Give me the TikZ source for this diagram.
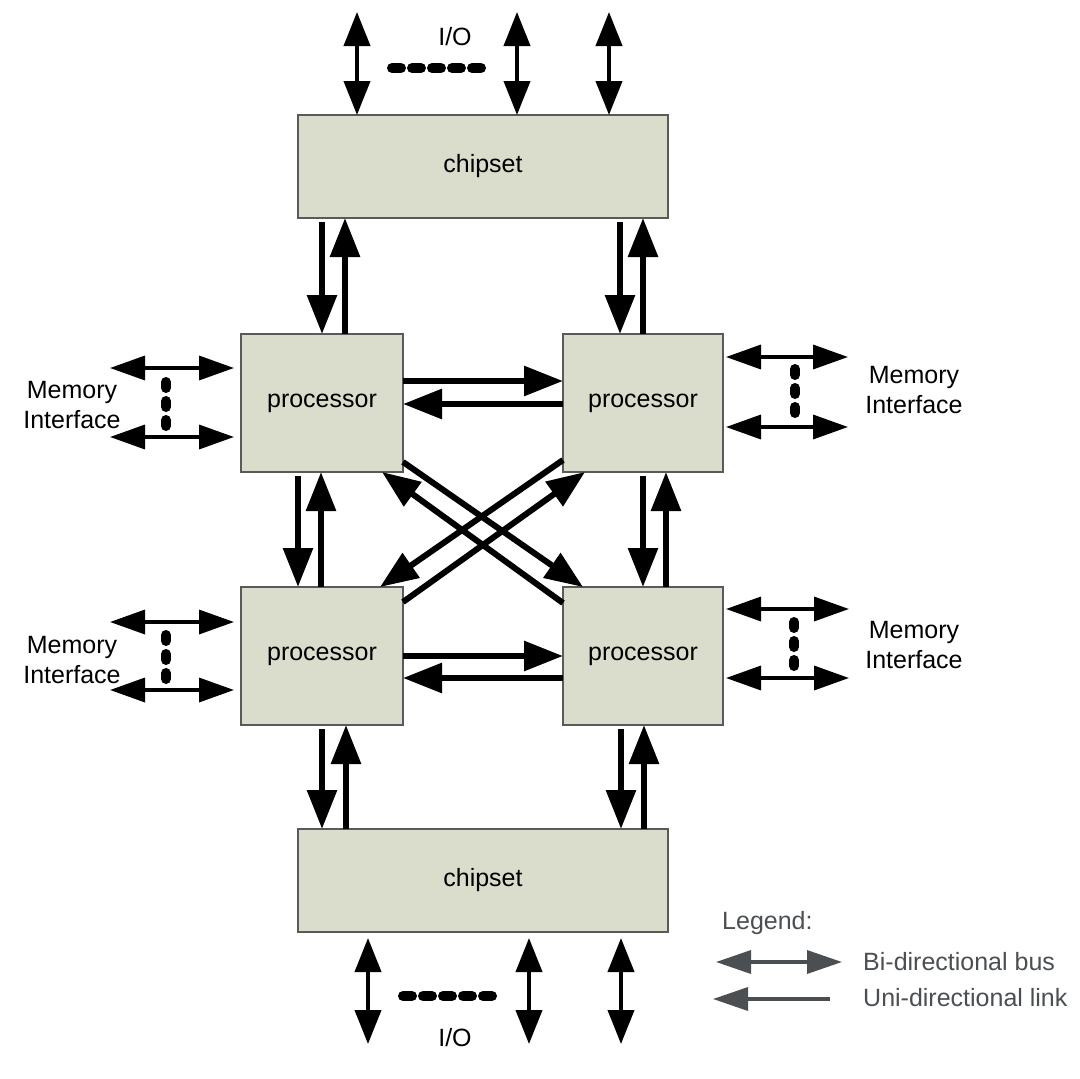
\documentclass[tikz,border=0pt]{standalone}
\usepackage{fontspec}
\setmainfont{Liberation Sans}
\usetikzlibrary{arrows.meta}
\definecolor{boxfill}{HTML}{DADDCB}
\definecolor{boxline}{HTML}{5A5A5A}
\definecolor{leggray}{HTML}{4B4F52}
\tikzset{
  unit/.style={draw=boxline, line width=1.4pt, fill=boxfill, inner sep=0pt, outer sep=0pt,
     font=\fontsize{25}{28}\selectfont},
  unilink/.style={line width=6pt, -{Triangle[length=39pt,width=29pt]}},
  diaglink/.style={line width=6pt, -{Triangle[length=38pt,width=29pt]}},
  iobus/.style={line width=4pt, {Triangle[length=34pt,width=26pt]}-{Triangle[length=34pt,width=26pt]}},
  membus/.style={line width=3.5pt, {Triangle[length=35pt,width=24pt]}-{Triangle[length=35pt,width=24pt]}},
  hdots/.style={line width=10pt, line cap=round, dash pattern=on 9pt off 11pt},
  vdots/.style={line width=10pt, line cap=round, dash pattern=on 6pt off 13pt},
  lbl/.style={font=\fontsize{25}{30}\selectfont, align=center, inner sep=0pt},
  legtxt/.style={font=\fontsize{25}{30}\selectfont, text=leggray, inner sep=0pt, anchor=west},
  legbi/.style={draw=leggray, line width=3.5pt, {Triangle[length=35pt,width=23pt]}-{Triangle[length=35pt,width=23pt]}},
  leguni/.style={draw=leggray, line width=3.5pt, -{Triangle[length=35pt,width=23pt]}},
}
\begin{document}
\begin{tikzpicture}[x=1pt, y=-1pt]
\useasboundingbox (0,0) rectangle (1080,1079);
\fill[white] (0,0) rectangle (1080,1079);

% boxes
\node[unit, minimum width=370pt, minimum height=103pt] (cs1) at (483,166.5) {chipset};
\node[unit, minimum width=162pt, minimum height=138pt] (tl) at (322,403) {processor};
\node[unit, minimum width=160pt, minimum height=138pt] (tr) at (643,403) {processor};
\node[unit, minimum width=162pt, minimum height=138pt] (bl) at (322,656) {processor};
\node[unit, minimum width=160pt, minimum height=138pt] (br) at (643,656) {processor};
\node[unit, minimum width=370pt, minimum height=103pt] (cs2) at (483,880.5) {chipset};

% chipset <-> top processors
\draw[unilink] ([xshift=24pt,yshift=-4pt]cs1.south west) -- ([xshift=81pt]tl.north west);
\draw[unilink] ([xshift=104pt]tl.north west) -- ([xshift=47pt]cs1.south west);
\draw[unilink] ([xshift=322pt,yshift=-4pt]cs1.south west) -- ([xshift=57pt]tr.north west);
\draw[unilink] ([xshift=80pt]tr.north west) -- ([xshift=345pt]cs1.south west);

% top processors <-> bottom processors (vertical)
\draw[unilink] ([xshift=57pt,yshift=-4pt]tl.south west) -- ([xshift=57pt]bl.north west);
\draw[unilink] ([xshift=80pt]bl.north west) -- ([xshift=80pt]tl.south west);
\draw[unilink] ([xshift=80pt,yshift=-4pt]tr.south west) -- ([xshift=80pt]br.north west);
\draw[unilink] ([xshift=103pt]br.north west) -- ([xshift=103pt]tr.south west);

% bottom processors <-> bottom chipset
\draw[unilink] ([xshift=81pt,yshift=-4pt]bl.south west) -- ([xshift=24pt]cs2.north west);
\draw[unilink] ([xshift=48pt]cs2.north west) -- ([xshift=105pt]bl.south west);
\draw[unilink] ([xshift=58pt,yshift=-4pt]br.south west) -- ([xshift=323pt]cs2.north west);
\draw[unilink] ([xshift=346pt]cs2.north west) -- ([xshift=81pt]br.south west);

% horizontal links
\draw[unilink] ([yshift=-47pt]tl.north east) -- ([yshift=-47pt]tr.north west);
\draw[unilink] ([yshift=-70pt]tr.north west) -- ([yshift=-70pt]tl.north east);
\draw[unilink] ([yshift=-69pt]bl.north east) -- ([yshift=-69pt]br.north west);
\draw[unilink] ([yshift=-91pt]br.north west) -- ([yshift=-91pt]bl.north east);

% diagonal links
\draw[diaglink] ([yshift=10pt]tl.south east) -- ([xshift=20pt]br.north west);
\draw[diaglink] ([yshift=-16pt]br.north west) -- ([xshift=-21pt]tl.south east);
\draw[diaglink] ([yshift=12pt]tr.south west) -- ([xshift=-23pt]bl.north east);
\draw[diaglink] ([yshift=-15pt]bl.north east) -- ([xshift=22pt]tr.south west);

% I/O top
\coordinate (iot1) at (357,12);
\coordinate (iot2) at (517,12);
\coordinate (iot3) at (609,12);
\draw[iobus] (iot1) -- ([xshift=59pt]cs1.north west);
\draw[iobus] (iot2) -- ([xshift=219pt]cs1.north west);
\draw[iobus] (iot3) -- ([xshift=311pt]cs1.north west);
\coordinate (dt1) at (392,68);
\coordinate (dt2) at (481,68);
\draw[hdots] (dt1) -- (dt2);
\node[lbl] (iotl) at (455,37) {I/O};

% I/O bottom
\coordinate (iob1) at (368,1044);
\coordinate (iob2) at (529,1044);
\coordinate (iob3) at (621,1044);
\draw[iobus] ([xshift=70pt,yshift=-6pt]cs2.south west) -- (iob1);
\draw[iobus] ([xshift=231pt,yshift=-6pt]cs2.south west) -- (iob2);
\draw[iobus] ([xshift=323pt,yshift=-6pt]cs2.south west) -- (iob3);
\coordinate (db1) at (403,996);
\coordinate (db2) at (492,996);
\draw[hdots] (db1) -- (db2);
\node[lbl] (iobl) at (455,1038) {I/O};

% memory interfaces
\coordinate (mtl1) at (110,368);
\coordinate (mtl2) at (110,437);
\draw[membus] (mtl1) -- ([xshift=-7pt,yshift=-34pt]tl.north west);
\draw[membus] (mtl2) -- ([xshift=-7pt,yshift=-103pt]tl.north west);
\coordinate (vtl1) at (166,382);
\coordinate (vtl2) at (166,426);
\draw[vdots] (vtl1) -- (vtl2);
\node[lbl] (mtll) at (72,405) {Memory\\Interface};

\coordinate (mbl1) at (110,622);
\coordinate (mbl2) at (110,690);
\draw[membus] (mbl1) -- ([xshift=-7pt,yshift=-35pt]bl.north west);
\draw[membus] (mbl2) -- ([xshift=-7pt,yshift=-103pt]bl.north west);
\coordinate (vbl1) at (166,635);
\coordinate (vbl2) at (166,679);
\draw[vdots] (vbl1) -- (vbl2);
\node[lbl] (mbll) at (72,660) {Memory\\Interface};

\coordinate (mtr1) at (848,357);
\coordinate (mtr2) at (848,427);
\draw[membus] ([xshift=3pt,yshift=-23pt]tr.north east) -- (mtr1);
\draw[membus] ([xshift=3pt,yshift=-93pt]tr.north east) -- (mtr2);
\coordinate (vtr1) at (795,369);
\coordinate (vtr2) at (795,413);
\draw[vdots] (vtr1) -- (vtr2);
\node[lbl] (mtrl) at (914,390) {Memory\\Interface};

\coordinate (mbr1) at (849,609);
\coordinate (mbr2) at (849,678);
\draw[membus] ([xshift=3pt,yshift=-22pt]br.north east) -- (mbr1);
\draw[membus] ([xshift=3pt,yshift=-91pt]br.north east) -- (mbr2);
\coordinate (vbr1) at (794,622);
\coordinate (vbr2) at (794,666);
\draw[vdots] (vbr1) -- (vbr2);
\node[lbl] (mbrl) at (914,645) {Memory\\Interface};

% legend
\node[legtxt] (legt) at (722,923) {Legend:};
\coordinate (lb1) at (716,962);
\coordinate (lb2) at (842,962);
\draw[legbi] (lb1) -- (lb2);
\node[legtxt] (lbt) at (863,962) {Bi-directional bus};
\coordinate (lu1) at (830,999);
\coordinate (lu2) at (713,999);
\draw[leguni] (lu1) -- (lu2);
\node[legtxt] (lut) at (863,998) {Uni-directional link};
\end{tikzpicture}
\end{document}
